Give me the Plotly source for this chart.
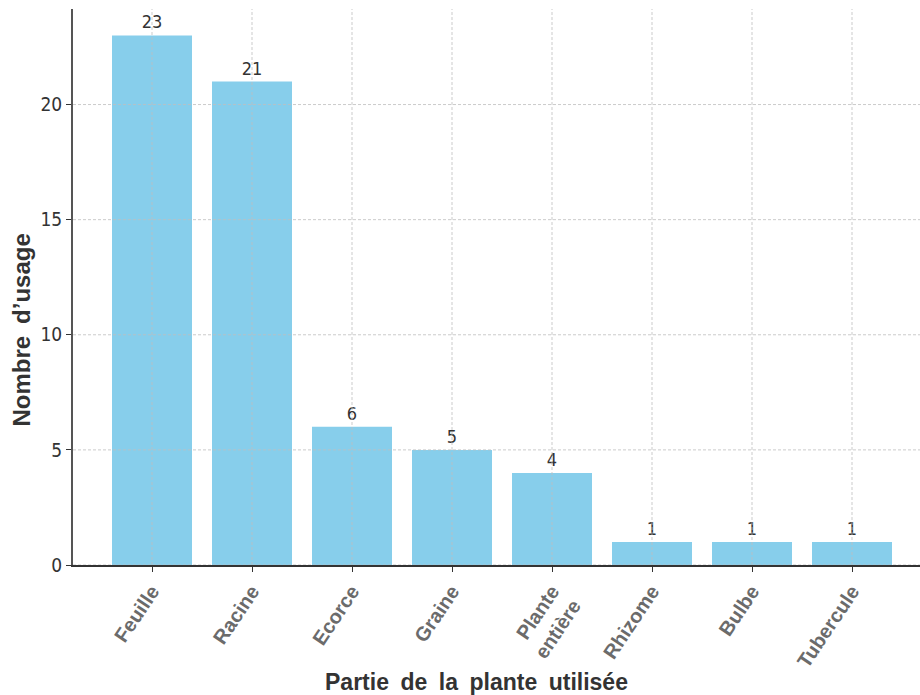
import plotly.graph_objects as go

categories = ["Feuille", "Racine", "Ecorce", "Graine", "Plante<br>entière",
              "Rhizome", "Bulbe", "Tubercule"]
usage_counts = [23, 21, 6, 5, 4, 1, 1, 1]
y_ticks = [0, 5, 10, 15, 20]

positions = list(range(len(categories)))
narrow = "DejaVu Sans Condensed, DejaVu Sans"
sans = "Liberation Sans, Arial"
wide = "\u2002"  # wider word spacing for the axis titles

fig = go.Figure(
    go.Bar(
        x=positions,
        y=usage_counts,
        width=0.8,
        marker=dict(color="#87CEEB", line=dict(width=0)),
        text=[str(v) for v in usage_counts],
        textposition="outside",
        cliponaxis=False,
        textfont=dict(family=narrow, size=18, color="#333333"),
        hoverinfo="x+y",
    )
)

# dashed grid drawn over the bars
grid_style = dict(color="rgba(190,190,190,0.8)", width=1, dash="3px,2px")
shapes = []
for p in positions:
    shapes.append(dict(type="line", xref="x", yref="paper", x0=p, x1=p, y0=0, y1=1,
                       line=grid_style, layer="above"))
for t in y_ticks:
    shapes.append(dict(type="line", xref="paper", yref="y", x0=0, x1=1, y0=t, y1=t,
                       line=grid_style, layer="above"))

x_title = wide.join("Partie de la plante utilisée".split(" "))
y_title = wide.join("Nombre d’usage".split(" "))

fig.update_layout(
    width=920,
    height=695,
    margin=dict(l=73, r=0, t=9, b=130),
    paper_bgcolor="white",
    plot_bgcolor="white",
    showlegend=False,
    shapes=shapes,
    annotations=[
        dict(text=f"<b>{x_title}</b>", xref="paper", yref="paper", x=0.476, y=-0.21,
             xanchor="center", yanchor="middle", showarrow=False,
             font=dict(family=sans, size=23, color="#333333")),
        dict(text=f"<b>{y_title}</b>", xref="paper", yref="paper", x=-0.0605, y=0.423,
             xanchor="center", yanchor="middle", showarrow=False, textangle=-90,
             font=dict(family=sans, size=24, color="#333333")),
    ],
    xaxis=dict(
        range=[-0.79, 7.68],
        tickmode="array",
        tickvals=positions,
        ticktext=[f"<b>{c}</b>" for c in categories],
        tickangle=-56,
        tickfont=dict(family=sans, size=20, color="#6b6b6b"),
        showgrid=False,
        zeroline=False,
        showline=True,
        linecolor="#333333",
        linewidth=1.5,
        ticks="outside",
        ticklen=5,
        tickcolor="#333333",
    ),
    yaxis=dict(
        range=[0, 24.15],
        tickmode="array",
        tickvals=y_ticks,
        tickfont=dict(family=narrow, size=19, color="#333333"),
        showgrid=False,
        zeroline=False,
        showline=True,
        linecolor="#555555",
        linewidth=2,
        ticks="outside",
        ticklen=5,
        tickcolor="#333333",
    ),
)

fig.write_html("out.html")
